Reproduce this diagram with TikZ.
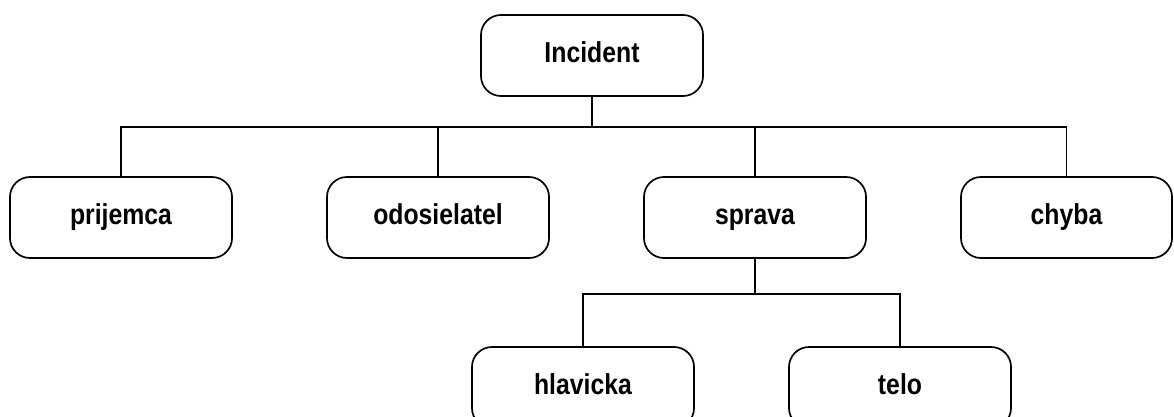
\documentclass[tikz,border=0pt]{standalone}
\usepackage{fontspec}
\newfontfamily\blokfont{Liberation Sans}[FakeStretch=0.86]
\usetikzlibrary{positioning}

\begin{document}
\begin{tikzpicture}[x=0.025cm, y=-0.025cm,
    blok/.style={draw, line width=1.2pt, rounded corners=0.5cm,
        minimum width=5.55cm, minimum height=2.025cm,
        text height=0.95em, text depth=0pt,
        font=\blokfont\bfseries\fontsize{20.5pt}{24pt}\selectfont},
    spoj/.style={line width=1.2pt}]
    \useasboundingbox (0,0) rectangle (1174,416);

    % Koren
    \node[blok] (incident) at (592,55.5) {Incident};

    % Prva uroven
    \node[blok] (prijemca) at (121,217.5) {prijemca};
    \node[blok] (odosielatel) at (438,217.5) {odosielatel};
    \node[blok] (sprava) at (755,217.5) {sprava};
    \node[blok, minimum width=5.275cm] (chyba) at (1066.5,217.5) {chyba};

    % Druha uroven
    \node[blok] (hlavicka) at (583,387.5) {hlavicka};
    \node[blok] (telo) at (900,387.5) {telo};

    % Spoje
    \foreach \n in {prijemca,odosielatel,sprava,chyba}
        \draw[spoj] (incident.south) -- ++(0,30) -| (\n.north);
    \foreach \n in {hlavicka,telo}
        \draw[spoj] (sprava.south) -- ++(0,35) -| (\n.north);
\end{tikzpicture}
\end{document}
